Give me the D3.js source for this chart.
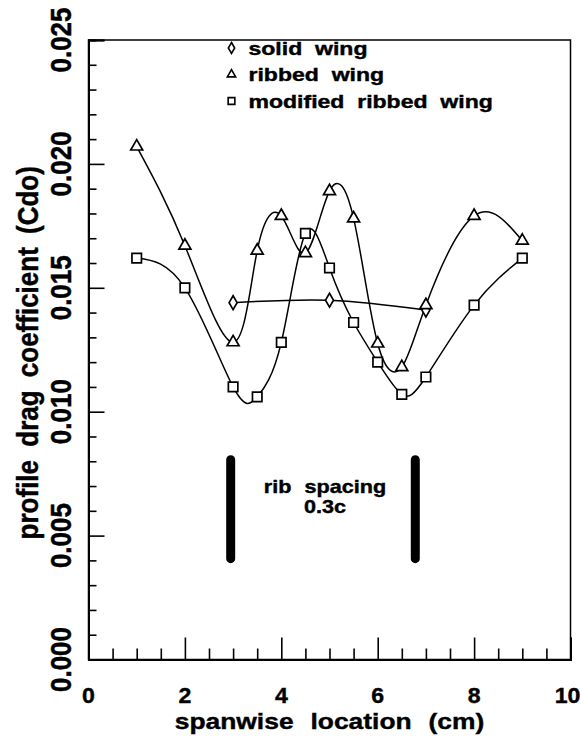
<!DOCTYPE html>
<html>
<head>
<meta charset="utf-8">
<script src="https://cdn.jsdelivr.net/npm/d3@7"></script>
<style>
  body { margin: 0; background: #fff; }
  text { font-family: "Liberation Sans", Arial, sans-serif; font-weight: bold; fill: #000; stroke: #000; stroke-width: 0.4px; }
</style>
</head>
<body>
<script>

// spanwise positions (cm) of the measurement stations
const xStations = [1, 2, 3, 3.5, 4, 4.5, 5, 5.5, 6, 6.5, 7, 8, 9];
const ribbedWing = [0.0207, 0.0167, 0.0128, 0.0165, 0.0179, 0.0164, 0.0189, 0.0178, 0.01275, 0.0118, 0.0143, 0.0179, 0.0169];
const modifiedWing = [0.0162, 0.0150, 0.0110, 0.0106, 0.0128, 0.0172, 0.0158, 0.0136, 0.0120, 0.0107, 0.0114, 0.0143, 0.0162];

const xSolid = [3, 5, 7];
const solidWing = [0.0144, 0.0145, 0.0141];

// rib positions marked with the thick bars
const ribX = [2.95, 6.78];
const ribSpan = [0.00407, 0.00806];

const xTicks = [0, 2, 4, 6, 8, 10];
const yTicks = [0, 0.005, 0.010, 0.015, 0.020, 0.025];
const legendLabels = ["solid wing", "ribbed wing", "modified ribbed wing"];

var w = 581;
var h = 740;

const margin = {top: 40, right: 10.5, bottom: 80.5, left: 88.5};
const width = w - margin.left - margin.right,
    height = h - margin.top - margin.bottom;

const svg = d3.select("body").append("svg")
    .attr("width", w)
    .attr("height", h);

const g = svg.append("g")
    .attr("transform", "translate(" + margin.left + "," + margin.top + ")");

const xScale = d3.scaleLinear().domain([0, 10]).range([0, width]);
const yScale = d3.scaleLinear().domain([0, 0.025]).range([height, 0]);

// frame
g.append("rect")
    .attr("width", width)
    .attr("height", height)
    .attr("fill", "none")
    .attr("stroke", "#000")
    .attr("stroke-width", 1.5);

// ticks point into the plot, labels drawn by hand below
const xMinor = d3.range(0, 10.01, 0.5).filter(d => d % 2 != 0);
const yMinor = d3.range(0, 26).map(d => d / 1000).filter(d => Math.round(d * 1000) % 5 != 0);

g.append("g").attr("transform", "translate(0," + height + ")")
    .call(d3.axisBottom(xScale).tickValues(xTicks).tickSize(-22).tickFormat(""));
g.append("g").attr("transform", "translate(0," + height + ")")
    .call(d3.axisBottom(xScale).tickValues(xMinor).tickSize(-11).tickFormat(""));
g.append("g")
    .call(d3.axisLeft(yScale).tickValues(yTicks).tickSize(-16).tickFormat(""));
g.append("g")
    .call(d3.axisLeft(yScale).tickValues(yMinor).tickSize(-8).tickFormat(""));

g.selectAll(".domain").attr("stroke-width", 2);
g.selectAll(".tick line").attr("stroke", "#000").attr("stroke-width", 1.6);

// tick labels
g.selectAll(".xlab")
    .data(xTicks)
    .enter().append("text")
    .attr("class", "xlab")
    .attr("text-anchor", "middle")
    .attr("font-size", 22)
    .attr("transform", d => "translate(" + (xScale(d) - (d == 10 ? 3 : 0)) + "," + (height + 43) + ") scale(1.05,1)")
    .text(d => d);

g.selectAll(".ylab")
    .data(yTicks)
    .enter().append("text")
    .attr("class", "ylab")
    .attr("text-anchor", "middle")
    .attr("font-size", 26)
    .attr("transform", d => "translate(-18," + yScale(d) + ") scale(1.1,1) rotate(-90)")
    .text(d => d3.format(".3f")(d));

// axis titles
g.append("text")
    .attr("text-anchor", "middle")
    .attr("font-size", 22)
    .attr("word-spacing", 8)
    .attr("transform", "translate(" + (width / 2) + "," + (height + 69) + ") scale(1.2,1)")
    .text("spanwise location (cm)");

g.append("text")
    .attr("text-anchor", "middle")
    .attr("font-size", 26)
    .attr("word-spacing", 6)
    .attr("transform", "translate(-51," + (height / 2 + 3) + ") scale(1.1,1) rotate(-90)")
    .text("profile drag coefficient (Cdo)");

// curves through the measured points
const line = d3.line()
    .x(d => xScale(d[0]))
    .y(d => yScale(d[1]))
    .curve(d3.curveNatural);

const ribbedPts = xStations.map((d, i) => [d, ribbedWing[i]]);
const modifiedPts = xStations.map((d, i) => [d, modifiedWing[i]]);
const solidPts = xSolid.map((d, i) => [d, solidWing[i]]);

[solidPts, ribbedPts, modifiedPts].forEach(pts => {
    g.append("path")
        .datum(pts)
        .attr("d", line)
        .attr("fill", "none")
        .attr("stroke", "#000")
        .attr("stroke-width", 1.5);
});

const diamond = d3.symbol().type(d3.symbolDiamond).size(55);
const triangle = d3.symbol().type(d3.symbolTriangle).size(62);
const square = d3.symbol().type(d3.symbolSquare).size(90);

function drawMarkers(pts, sym) {
    g.append("g").selectAll("path")
        .data(pts)
        .enter().append("path")
        .attr("d", sym)
        .attr("transform", d => "translate(" + xScale(d[0]) + "," + yScale(d[1]) + ")")
        .attr("fill", "#fff")
        .attr("stroke", "#000")
        .attr("stroke-width", 1.7);
}
drawMarkers(solidPts, diamond);
drawMarkers(ribbedPts, triangle);
drawMarkers(modifiedPts, square);

// legend
const legendSyms = [
    d3.symbol().type(d3.symbolDiamond).size(35),
    d3.symbol().type(d3.symbolTriangle).size(30),
    d3.symbol().type(d3.symbolSquare).size(45)
];
const legend = g.append("g").attr("transform", "translate(143,8)");
legendLabels.forEach((lab, i) => {
    legend.append("path")
        .attr("d", legendSyms[i])
        .attr("transform", "translate(0," + (i * 26.5) + ")")
        .attr("fill", "#fff")
        .attr("stroke", "#000")
        .attr("stroke-width", 1.6);
    legend.append("text")
        .attr("font-size", 18)
        .attr("word-spacing", 5)
        .attr("transform", "translate(17," + (i * 26.5 + 6.5) + ") scale(1.28,1)")
        .text(lab);
});

// rib spacing bars
g.selectAll(".rib")
    .data(ribX)
    .enter().append("line")
    .attr("class", "rib")
    .attr("x1", d => xScale(d))
    .attr("x2", d => xScale(d))
    .attr("y1", yScale(ribSpan[0]))
    .attr("y2", yScale(ribSpan[1]))
    .attr("stroke", "#000")
    .attr("stroke-width", 9)
    .attr("stroke-linecap", "round");

const ribMid = xScale((ribX[0] + ribX[1]) / 2) + 2;
g.append("text")
    .attr("text-anchor", "middle")
    .attr("font-size", 18)
    .attr("word-spacing", 6)
    .attr("transform", "translate(" + ribMid + "," + (yScale(0.0067)) + ") scale(1.2,1)")
    .text("rib spacing");
g.append("text")
    .attr("text-anchor", "middle")
    .attr("font-size", 18)
    .attr("transform", "translate(" + ribMid + "," + (yScale(0.0059)) + ") scale(1.2,1)")
    .text("0.3c");

</script>
</body>
</html>
